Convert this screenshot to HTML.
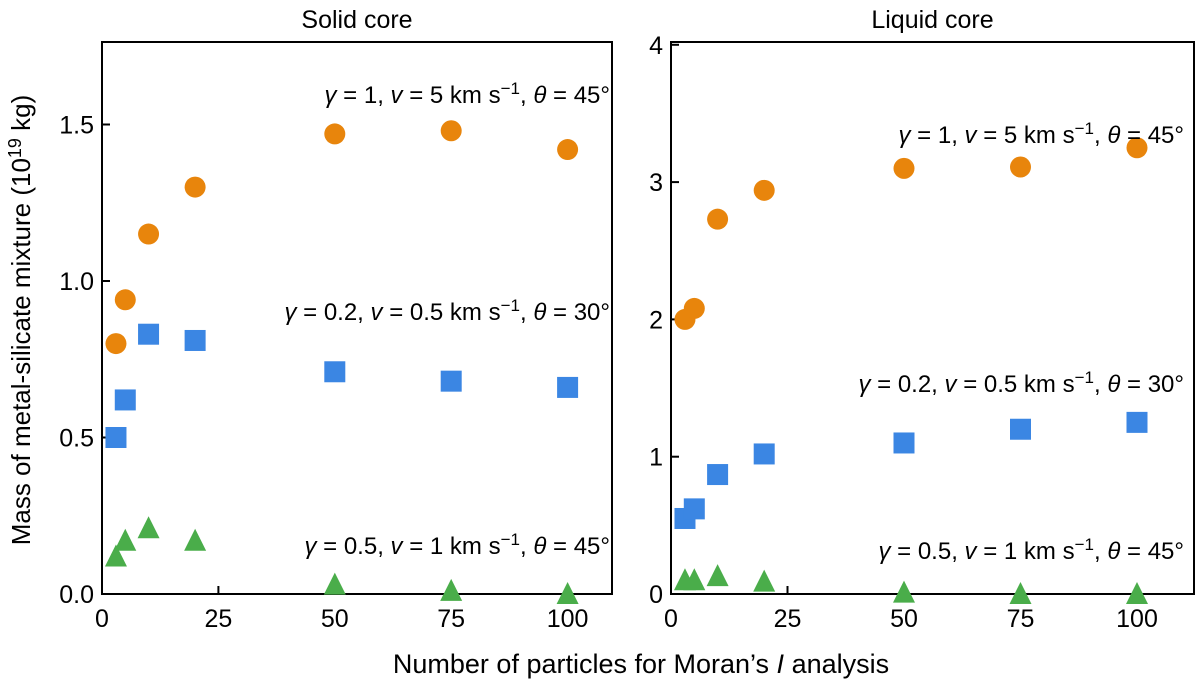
<!DOCTYPE html>
<html><head><meta charset="utf-8"><style>
body{margin:0;background:#fff;}
svg text{font-family:"Liberation Sans",sans-serif;fill:#000;}
</style></head><body>
<svg id="chart" width="1200" height="685" viewBox="0 0 1200 685" xmlns="http://www.w3.org/2000/svg">
<g id="root"></g>
</svg>
<script>
const xValues = [3, 5, 10, 20, 50, 75, 100];
const solidOrange = [0.80, 0.94, 1.15, 1.30, 1.47, 1.48, 1.42];
const solidBlue = [0.50, 0.62, 0.83, 0.81, 0.71, 0.68, 0.66];
const solidGreen = [0.12, 0.17, 0.21, 0.17, 0.03, 0.01, 0.00];
const liquidOrange = [2.00, 2.08, 2.73, 2.94, 3.10, 3.11, 3.25];
const liquidBlue = [0.55, 0.62, 0.87, 1.02, 1.10, 1.20, 1.25];
const liquidGreen = [0.10, 0.10, 0.13, 0.09, 0.01, 0.00, 0.00];
const xTicks = [0, 25, 50, 75, 100];
const solidYTicks = [0, 0.5, 1.0, 1.5];
const solidYLabels = ["0.0", "0.5", "1.0", "1.5"];
const liquidYTicks = [0, 1, 2, 3, 4];
const liquidYLabels = ["0", "1", "2", "3", "4"];

const NS = "http://www.w3.org/2000/svg";
const root = document.getElementById("root");
function mk(tag, attrs, parent) {
  const e = document.createElementNS(NS, tag);
  for (const k in attrs) e.setAttribute(k, attrs[k]);
  (parent || root).appendChild(e);
  return e;
}
const ORANGE = "#e8850c", BLUE = "#3b86e3", GREEN = "#4aad4a";

function panel(cfg) {
  const g = mk("g", {});
  
  
  const sx = v => cfg.x0 + v * cfg.xs;
  const sy = v => cfg.yBottom - v * cfg.ys;
  const box = mk("rect", {x: cfg.left, y: 42, width: cfg.right - cfg.left, height: cfg.yBottom - 42, fill: "none", stroke: "#000", "stroke-width": 2}, g);
  
  
  xTicks.forEach(t => {
    const x = sx(t);
    if (t > 0) mk("line", {x1: x, x2: x, y1: cfg.yBottom, y2: cfg.yBottom - 8, stroke: "#000", "stroke-width": 2}, g);
    const tl = mk("text", {x: x, y: cfg.yBottom + 33, "font-size": 25, "text-anchor": "middle"}, g);
    tl.textContent = t;
    
    
  });
  cfg.yTicks.forEach((t, i) => {
    const y = sy(t);
    if (t > 0) mk("line", {x1: cfg.left, x2: cfg.left + 8, y1: y, y2: y, stroke: "#000", "stroke-width": 2}, g);
    const tl = mk("text", {x: cfg.left - 8, y: y + 9, "font-size": 25, "text-anchor": "end"}, g);
    tl.textContent = cfg.yLabels[i];
    
    
  });
  const title = mk("text", {x: (cfg.left + cfg.right) / 2, y: 28, "font-size": 25, "text-anchor": "middle"}, g);
  title.textContent = cfg.title;
  
  
  cfg.orange.forEach((v, i) => {
    const c = mk("circle", {cx: sx(xValues[i]), cy: sy(v), r: 10.5, fill: ORANGE}, g);
    
    
  });
  cfg.blue.forEach((v, i) => {
    const r = mk("rect", {x: sx(xValues[i]) - 10.5, y: sy(v) - 10.5, width: 21, height: 21, fill: BLUE}, g);
    
    
  });
  cfg.green.forEach((v, i) => {
    const x = sx(xValues[i]), y = sy(v);
    const p = mk("polygon", {points: `${x-11},${y+10} ${x+11},${y+10} ${x},${y-12}`, fill: GREEN}, g);
    
    
  });
  cfg.notes.forEach(n => {
    const t = mk("text", {x: cfg.noteRight, y: n.y, "font-size": 24, "text-anchor": "end"}, g);
    t.innerHTML = `<tspan font-style="italic">γ</tspan> = ${n.g}, <tspan font-style="italic">v</tspan> = ${n.v} km s<tspan dy="-9" font-size="17">−1</tspan><tspan dy="9">, </tspan><tspan font-style="italic">θ</tspan> = ${n.t}°`;
    
    
  });
}

panel({name: "solid-core-panel", title: "Solid core", left: 102, right: 612, noteRight: 610, x0: 102, xs: 4.656, yBottom: 594, ys: 313,
  yTicks: solidYTicks, yLabels: solidYLabels, orange: solidOrange, blue: solidBlue, green: solidGreen,
  notes: [{y: 103, g: "1", v: "5", t: "45"}, {y: 320, g: "0.2", v: "0.5", t: "30"}, {y: 554, g: "0.5", v: "1", t: "45"}]});
panel({name: "liquid-core-panel", title: "Liquid core", left: 671, right: 1194, noteRight: 1184, x0: 671, xs: 4.66, yBottom: 594, ys: 137.3,
  yTicks: liquidYTicks, yLabels: liquidYLabels, orange: liquidOrange, blue: liquidBlue, green: liquidGreen,
  notes: [{y: 143, g: "1", v: "5", t: "45"}, {y: 392, g: "0.2", v: "0.5", t: "30"}, {y: 559, g: "0.5", v: "1", t: "45"}]});

const yl = mk("text", {x: 0, y: 0, "font-size": 26, "text-anchor": "middle", transform: "translate(30,320) rotate(-90)"});
yl.innerHTML = 'Mass of metal-silicate mixture (10<tspan dy="-9" font-size="18">19</tspan><tspan dy="9"> kg)</tspan>';


const xl = mk("text", {x: 641, y: 673, "font-size": 27, "text-anchor": "middle"});
xl.innerHTML = 'Number of particles for Moran’s <tspan font-style="italic">I</tspan> analysis';


</script>
</body></html>
